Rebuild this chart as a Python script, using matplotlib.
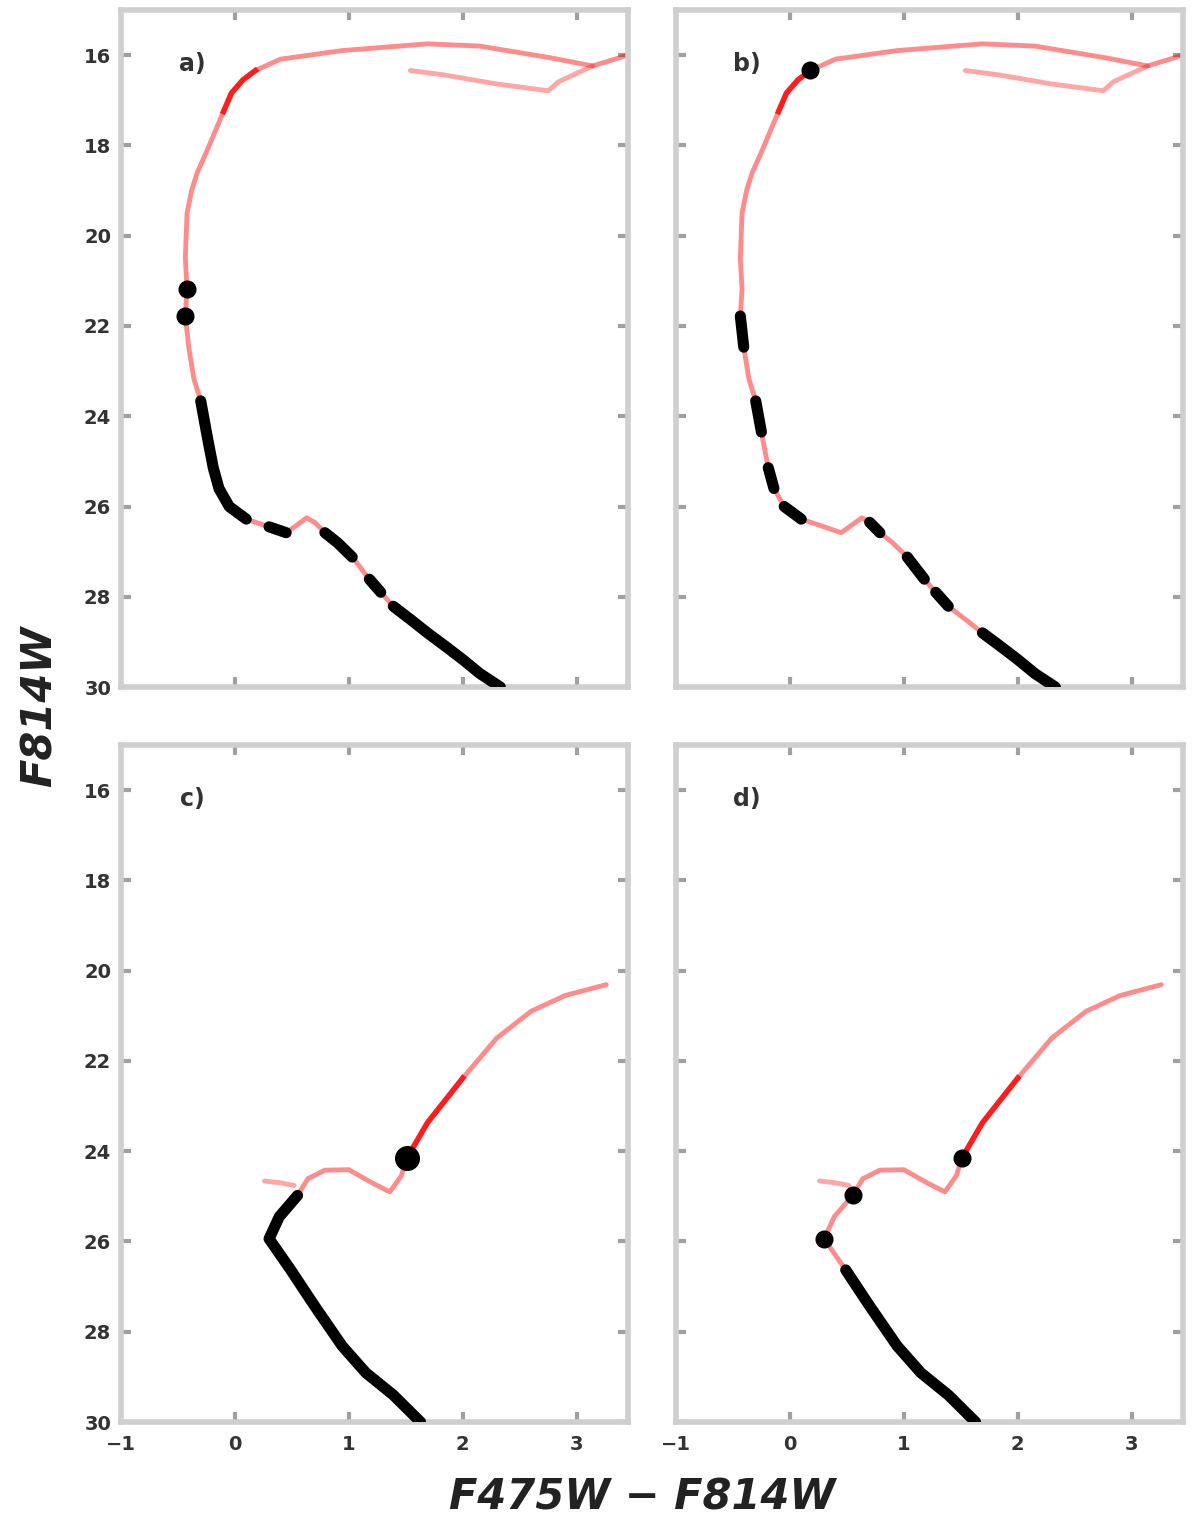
import numpy as np
import matplotlib
matplotlib.use("Agg")
import matplotlib.pyplot as plt

# colour - magnitude tracks (F475W - F814W, F814W)
track_ab_x = [2.33, 2.15, 2.00, 1.85, 1.69, 1.54, 1.39, 1.28, 1.18, 1.03,
              0.90, 0.79, 0.70, 0.63, 0.55, 0.45, 0.30, 0.10, -0.05, -0.14,
              -0.19, -0.22, -0.25, -0.30, -0.36, -0.405, -0.435, -0.42, -0.435, -0.42,
              -0.38, -0.33, -0.25, -0.18, -0.10, -0.03, 0.07, 0.18, 0.40, 0.94,
              1.69, 2.15, 2.75, 3.14, 3.45]
track_ab_y = [30.00, 29.70, 29.39, 29.10, 28.80, 28.50, 28.21, 27.90, 27.61, 27.12,
              26.80, 26.58, 26.35, 26.25, 26.40, 26.58, 26.45, 26.28, 26.00, 25.60,
              25.14, 24.75, 24.35, 23.66, 23.17, 22.47, 21.78, 21.18, 20.50, 19.50,
              19.00, 18.60, 18.15, 17.73, 17.25, 16.84, 16.55, 16.34, 16.09, 15.90,
              15.75, 15.80, 16.05, 16.24, 16.00]
loop_ab_x = [3.14, 2.84, 2.75, 2.30, 1.84, 1.54]
loop_ab_y = [16.24, 16.59, 16.79, 16.64, 16.44, 16.34]

track_cd_x = [1.63, 1.39, 1.15, 0.94, 0.70, 0.49, 0.30, 0.39, 0.55, 0.64,
              0.79, 1.00, 1.21, 1.36, 1.46, 1.51, 1.69, 2.00, 2.30, 2.60, 2.90, 3.26]
track_cd_y = [30.00, 29.40, 28.91, 28.31, 27.43, 26.63, 25.94, 25.45, 24.98, 24.61,
              24.42, 24.41, 24.71, 24.90, 24.55, 24.15, 23.37, 22.38, 21.49, 20.90, 20.55, 20.31]
tail_cd_x = [0.26, 0.40, 0.52]
tail_cd_y = [24.66, 24.70, 24.76]

# black (observed) pieces as index ranges along each track, plus single dots
black_a = [(0, 6), (7, 8), (9, 11), (15, 16), (17, 23)]
dots_a = [26, 27]
black_b = [(0, 4), (6, 7), (8, 9), (11, 12), (17, 18), (19, 20), (22, 23), (25, 26)]
dots_b = [37]
black_c = [(0, 8)]
dots_c = [15]
black_d = [(0, 5)]
dots_d = [6, 8, 15]

bright_ab = [(34, 37)]
bright_cd = [(15, 17)]

xticks = [-1, 0, 1, 2, 3]
yticks = [16, 18, 20, 22, 24, 26, 28, 30]
panel_labels = ["a)", "b)", "c)", "d)"]

fig = plt.figure(figsize=(12, 15.36), dpi=100)
pos = [[0.1008, 0.5527, 0.4225, 0.4408], [0.5633, 0.5527, 0.4225, 0.4408],
       [0.1008, 0.0742, 0.4225, 0.4408], [0.5633, 0.0742, 0.4225, 0.4408]]

panels = [
    (track_ab_x, track_ab_y, [(loop_ab_x, loop_ab_y)], black_a, dots_a, bright_ab, 12),
    (track_ab_x, track_ab_y, [(loop_ab_x, loop_ab_y)], black_b, dots_b, bright_ab, 12),
    (track_cd_x, track_cd_y, [(tail_cd_x, tail_cd_y)], black_c, dots_c, bright_cd, 17),
    (track_cd_x, track_cd_y, [(tail_cd_x, tail_cd_y)], black_d, dots_d, bright_cd, 12),
]

for i, (tx, ty, extra, blk, dots, bright, dsize) in enumerate(panels):
    ax = fig.add_axes(pos[i])
    tx = np.array(tx)
    ty = np.array(ty)
    ax.plot(tx, ty, color="red", alpha=0.45, lw=3.5, solid_capstyle="round",
            solid_joinstyle="round", zorder=2)
    for ex, ey in extra:
        ax.plot(ex, ey, color="red", alpha=0.35, lw=3.5, solid_capstyle="round", zorder=2)
    for a, b in bright:
        ax.plot(tx[a:b + 1], ty[a:b + 1], color="red", alpha=0.8, lw=4,
                solid_joinstyle="round", zorder=3)
    for a, b in blk:
        ax.plot(tx[a:b + 1], ty[a:b + 1], color="black", lw=8, solid_capstyle="round",
                solid_joinstyle="round", zorder=4)
    ax.plot(tx[dots], ty[dots], "o", color="black", ms=dsize, zorder=5)

    ax.set_xlim(-1, 3.45)
    ax.set_ylim(30, 15)
    ax.set_xticks(xticks)
    ax.set_yticks(yticks)
    for sp in ax.spines.values():
        sp.set_color("#cfcfcf")
        sp.set_linewidth(4)
    ax.tick_params(direction="in", length=7, width=3, color="#a0a0a0",
                   top=True, right=True, labelsize=14, labelcolor="#333333")
    ax.tick_params(axis="x", pad=9)
    ax.tick_params(axis="y", pad=7)
    if i < 2:
        ax.set_xticklabels([])
    if i % 2 == 1:
        ax.set_yticklabels([])
    for lab in ax.get_xticklabels() + ax.get_yticklabels():
        lab.set_fontweight("bold")
    ax.text(0.14, 0.92, panel_labels[i], transform=ax.transAxes, fontsize=17,
            fontweight="bold", color="#333333", ha="center", va="center")

fig.text(0.535, 0.025, "F475W \u2212 F814W", fontsize=30, fontstyle="italic",
         fontweight="bold", ha="center", va="center", color="#222222")
fig.text(0.033, 0.54, "F814W", fontsize=30, fontstyle="italic", fontweight="bold",
         rotation=90, ha="center", va="center", color="#222222")

fig.savefig("out.png", dpi=100)
